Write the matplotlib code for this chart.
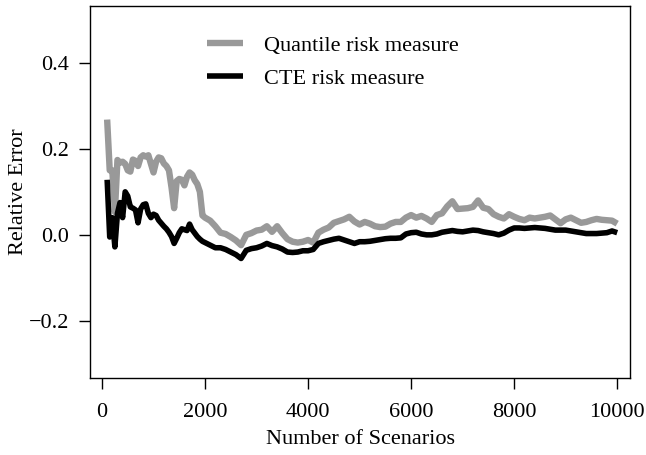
import numpy as np
import matplotlib
matplotlib.use("Agg")
from matplotlib import pyplot as plt

# number of scenarios: every 50 up to 2000, then every 100
scenarios = list(range(100, 2001, 50)) + list(range(2100, 10001, 100))

quantile_err = [
    0.268, 0.150, 0.150, 0.053, 0.174, 0.168, 0.170, 0.165, 0.150, 0.147,
    0.175, 0.172, 0.160, 0.180, 0.185, 0.182, 0.185, 0.165, 0.145, 0.170,
    0.180, 0.178, 0.166, 0.160, 0.150, 0.110, 0.062, 0.125, 0.130, 0.128,
    0.115, 0.135, 0.145, 0.140, 0.127, 0.118, 0.100, 0.045, 0.040,
    0.033, 0.020, 0.005, 0.002, -0.005, -0.013, -0.024, 0.000, 0.004, 0.010,
    0.012, 0.020, 0.007, 0.020, 0.004, -0.010, -0.016, -0.018, -0.016, -0.012,
    -0.018, 0.005, 0.012, 0.017, 0.028, 0.032, 0.036, 0.042, 0.031, 0.024,
    0.030, 0.026, 0.020, 0.018, 0.019, 0.026, 0.030, 0.030, 0.040, 0.046,
    0.040, 0.044, 0.038, 0.030, 0.046, 0.050, 0.066, 0.078, 0.060, 0.061,
    0.062, 0.065, 0.080, 0.063, 0.060, 0.048, 0.042, 0.038, 0.048, 0.042,
    0.037, 0.034, 0.040, 0.038, 0.040, 0.042, 0.045, 0.036, 0.027, 0.036,
    0.040, 0.034, 0.028, 0.030, 0.034, 0.037, 0.035, 0.034, 0.033, 0.026,
]

cte_err = [
    0.128, -0.005, 0.040, -0.028, 0.050, 0.075, 0.040, 0.100, 0.090, 0.065,
    0.062, 0.058, 0.028, 0.060, 0.070, 0.072, 0.050, 0.040, 0.048, 0.045,
    0.034, 0.027, 0.020, 0.014, 0.006, -0.004, -0.020, -0.008, 0.005, 0.014,
    0.012, 0.010, 0.025, 0.012, 0.004, -0.004, -0.010, -0.015, -0.018,
    -0.024, -0.030, -0.030, -0.034, -0.040, -0.046, -0.055, -0.036, -0.032, -0.030,
    -0.026, -0.020, -0.025, -0.028, -0.033, -0.040, -0.041, -0.040, -0.037, -0.037,
    -0.034, -0.020, -0.016, -0.013, -0.010, -0.008, -0.012, -0.016, -0.020, -0.016,
    -0.016, -0.015, -0.013, -0.011, -0.009, -0.008, -0.008, -0.007, 0.002, 0.005,
    0.006, 0.002, 0.000, 0.000, 0.002, 0.006, 0.008, 0.010, 0.008, 0.007,
    0.009, 0.011, 0.010, 0.007, 0.005, 0.003, 0.000, 0.004, 0.011, 0.016,
    0.016, 0.015, 0.016, 0.017, 0.016, 0.015, 0.013, 0.011, 0.011, 0.011,
    0.009, 0.007, 0.005, 0.003, 0.003, 0.003, 0.004, 0.005, 0.009, 0.005,
]

labels = ["Quantile risk measure", "CTE risk measure"]
xticks = [0, 2000, 4000, 6000, 8000, 10000]
yticks = [-0.2, 0.0, 0.2, 0.4]

plt.rcParams["font.family"] = ["Liberation Serif", "DejaVu Serif"]
plt.rcParams["font.size"] = 16

fig = plt.figure(figsize=(6.46, 4.55), dpi=100)
ax = fig.add_axes([0.1393, 0.170, 0.8366, 0.8168])

ax.plot(scenarios, quantile_err, color="#999999", lw=4.6, label=labels[0],
        solid_joinstyle="round", solid_capstyle="butt")
ax.plot(scenarios, cte_err, color="black", lw=4.0, label=labels[1],
        solid_joinstyle="round", solid_capstyle="butt")

ax.set_xlim(-233, 10257)
ax.set_ylim(-0.332, 0.532)
ax.set_xticks(xticks)
ax.set_xticklabels([str(t) for t in xticks])
ax.set_yticks(yticks)
ax.set_yticklabels(["\u22120.2", "0.0", "0.2", "0.4"])
ax.tick_params(direction="out", length=8, width=1, pad=7)
ax.tick_params(axis="x", pad=10)
for s in ax.spines.values():
    s.set_linewidth(1)

ax.set_xlabel("Number of Scenarios", labelpad=6)
ax.set_ylabel("Relative Error")
ax.yaxis.set_label_coords(-0.115, 0.5)

ax.legend(loc="upper left", bbox_to_anchor=(0.2, 0.945), frameon=False,
          handlelength=1.6, handletextpad=0.95, labelspacing=0.55,
          borderaxespad=0)

fig.savefig("out.png", dpi=100)
